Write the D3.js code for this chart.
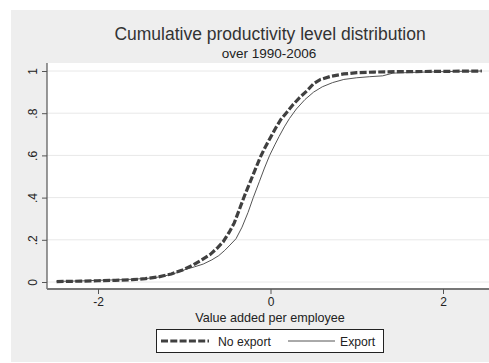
<!DOCTYPE html>
<html>
<head>
<meta charset="utf-8">
<script src="https://cdn.jsdelivr.net/npm/d3@7"></script>
<style>
  html, body { margin: 0; padding: 0; background: #ffffff; }
  svg { display: block; font-family: "Liberation Sans", Arial, sans-serif; }
</style>
</head>
<body>
<svg id="chart" width="489" height="363"></svg>
<script>
// Cumulative share of firms by (log) value added per employee
const noExportX = [-2.48, -2.2, -2.0, -1.8, -1.6, -1.45, -1.3, -1.15, -1.02, -0.9, -0.8, -0.7, -0.62, -0.55, -0.48, -0.42, -0.36, -0.3, -0.24, -0.18, -0.12, -0.06, 0.0, 0.06, 0.12, 0.19, 0.26, 0.34, 0.42, 0.5, 0.58, 0.7, 0.85, 1.0, 1.2, 1.5, 1.9, 2.2, 2.45];
const noExportY = [0.002, 0.004, 0.006, 0.008, 0.011, 0.016, 0.024, 0.038, 0.057, 0.08, 0.104, 0.13, 0.16, 0.19, 0.235, 0.28, 0.345, 0.41, 0.47, 0.53, 0.59, 0.64, 0.685, 0.73, 0.77, 0.805, 0.84, 0.875, 0.905, 0.94, 0.96, 0.975, 0.986, 0.992, 0.995, 0.997, 0.998, 0.999, 1.0];

const exportX = [-2.48, -2.2, -2.0, -1.8, -1.6, -1.4, -1.25, -1.1, -0.98, -0.88, -0.78, -0.68, -0.6, -0.53, -0.47, -0.4, -0.33, -0.26, -0.2, -0.13, -0.07, -0.01, 0.05, 0.1, 0.16, 0.22, 0.3, 0.4, 0.5, 0.6, 0.72, 0.85, 1.0, 1.15, 1.3, 1.42, 1.7, 2.0, 2.45];
const exportY = [0.003, 0.005, 0.008, 0.01, 0.013, 0.018, 0.026, 0.042, 0.06, 0.072, 0.085, 0.105, 0.125, 0.15, 0.175, 0.205, 0.26, 0.33, 0.4, 0.475, 0.54, 0.6, 0.65, 0.69, 0.735, 0.775, 0.82, 0.865, 0.9, 0.925, 0.945, 0.96, 0.968, 0.973, 0.977, 0.99, 0.994, 0.997, 1.0];

const xTicks = [-2, 0, 2];
const xTickLabels = ["-2", "0", "2"];
const yTicks = [0, 0.2, 0.4, 0.6, 0.8, 1];
const yTickLabels = ["0", ".2", ".4", ".6", ".8", "1"];

const titleText = "Cumulative productivity level distribution";
const subtitleText = "over 1990-2006";
const xTitle = "Value added per employee";
const seriesNames = ["No export", "Export"];

const svg = d3.select("#chart");
const W = 489;

// outer graph region
svg.append("rect").attr("x", 11).attr("y", 10).attr("width", W - 11).attr("height", 352)
  .attr("fill", "#eeeeee");

const plot = { left: 47, top: 63, right: 489, bottom: 289 };

svg.append("rect").attr("x", plot.left).attr("y", plot.top)
  .attr("width", plot.right - plot.left).attr("height", plot.bottom - plot.top)
  .attr("fill", "#ffffff");

const x = d3.scaleLinear().domain([-2, 2]).range([98, 443]);
const y = d3.scaleLinear().domain([0, 1]).range([282, 71]);

// horizontal grid
svg.append("g").selectAll("line").data(yTicks).join("line")
  .attr("x1", plot.left).attr("x2", plot.right)
  .attr("y1", d => y(d)).attr("y2", d => y(d))
  .attr("stroke", "#e8e8e8").attr("stroke-width", 1);

// y axis, labels turned to read upward
const yAxis = svg.append("g").attr("transform", `translate(${plot.left},0)`)
  .call(d3.axisLeft(y).tickValues(yTicks).tickSize(5).tickPadding(4)
    .tickFormat((d, i) => yTickLabels[i]));
yAxis.select(".domain").attr("d", `M0,${plot.top}V${plot.bottom}`)
  .attr("stroke", "#555").attr("stroke-width", 1.2);
yAxis.selectAll(".tick line").attr("stroke", "#555");
yAxis.selectAll(".tick text")
  .attr("transform", "rotate(-90)")
  .attr("x", 0).attr("y", -10).attr("dy", 0)
  .attr("text-anchor", "middle")
  .attr("font-size", 12).attr("fill", "#222")
  .attr("font-family", "Liberation Sans, Arial, sans-serif");

// x axis
const xAxis = svg.append("g").attr("transform", `translate(0,${plot.bottom})`)
  .call(d3.axisBottom(x).tickValues(xTicks).tickSize(5).tickPadding(3)
    .tickFormat((d, i) => xTickLabels[i]));
xAxis.select(".domain").attr("d", `M${plot.left},0H${plot.right}`)
  .attr("stroke", "#777").attr("stroke-width", 2);
xAxis.selectAll(".tick line").attr("stroke", "#555");
xAxis.selectAll(".tick text").attr("font-size", 12).attr("fill", "#222")
  .attr("font-family", "Liberation Sans, Arial, sans-serif");

// curves
const line = d3.line().x(d => x(d[0])).y(d => y(d[1]));
const exportPts = exportX.map((v, i) => [v, exportY[i]]);
const noExportPts = noExportX.map((v, i) => [v, noExportY[i]]);

svg.append("path").datum(exportPts).attr("d", line)
  .attr("fill", "none").attr("stroke", "#555").attr("stroke-width", 1);
svg.append("path").datum(noExportPts).attr("d", line)
  .attr("fill", "none").attr("stroke", "#404040").attr("stroke-width", 3.2)
  .attr("stroke-dasharray", "7,2.3");

// titles
svg.append("text").attr("x", 270).attr("y", 40).attr("text-anchor", "middle")
  .attr("font-size", 17.5).attr("fill", "#333").text(titleText);
svg.append("text").attr("x", 269).attr("y", 58).attr("text-anchor", "middle")
  .attr("font-size", 13.5).attr("fill", "#222").text(subtitleText);
svg.append("text").attr("x", 270).attr("y", 322).attr("text-anchor", "middle")
  .attr("font-size", 12.6).attr("fill", "#222").text(xTitle);

// legend
const lg = svg.append("g");
lg.append("rect").attr("x", 156.5).attr("y", 329.5).attr("width", 227).attr("height", 23)
  .attr("fill", "#ffffff").attr("stroke", "#222").attr("stroke-width", 1);
lg.append("line").attr("x1", 161).attr("x2", 209).attr("y1", 341).attr("y2", 341)
  .attr("stroke", "#404040").attr("stroke-width", 3.2).attr("stroke-dasharray", "7,2.3");
lg.append("text").attr("x", 218).attr("y", 346).attr("font-size", 12.2).attr("fill", "#222")
  .text(seriesNames[0]);
lg.append("line").attr("x1", 288).attr("x2", 335).attr("y1", 341).attr("y2", 341)
  .attr("stroke", "#555").attr("stroke-width", 1);
lg.append("text").attr("x", 340).attr("y", 346).attr("font-size", 12.2).attr("fill", "#222")
  .text(seriesNames[1]);
</script>
</body>
</html>
